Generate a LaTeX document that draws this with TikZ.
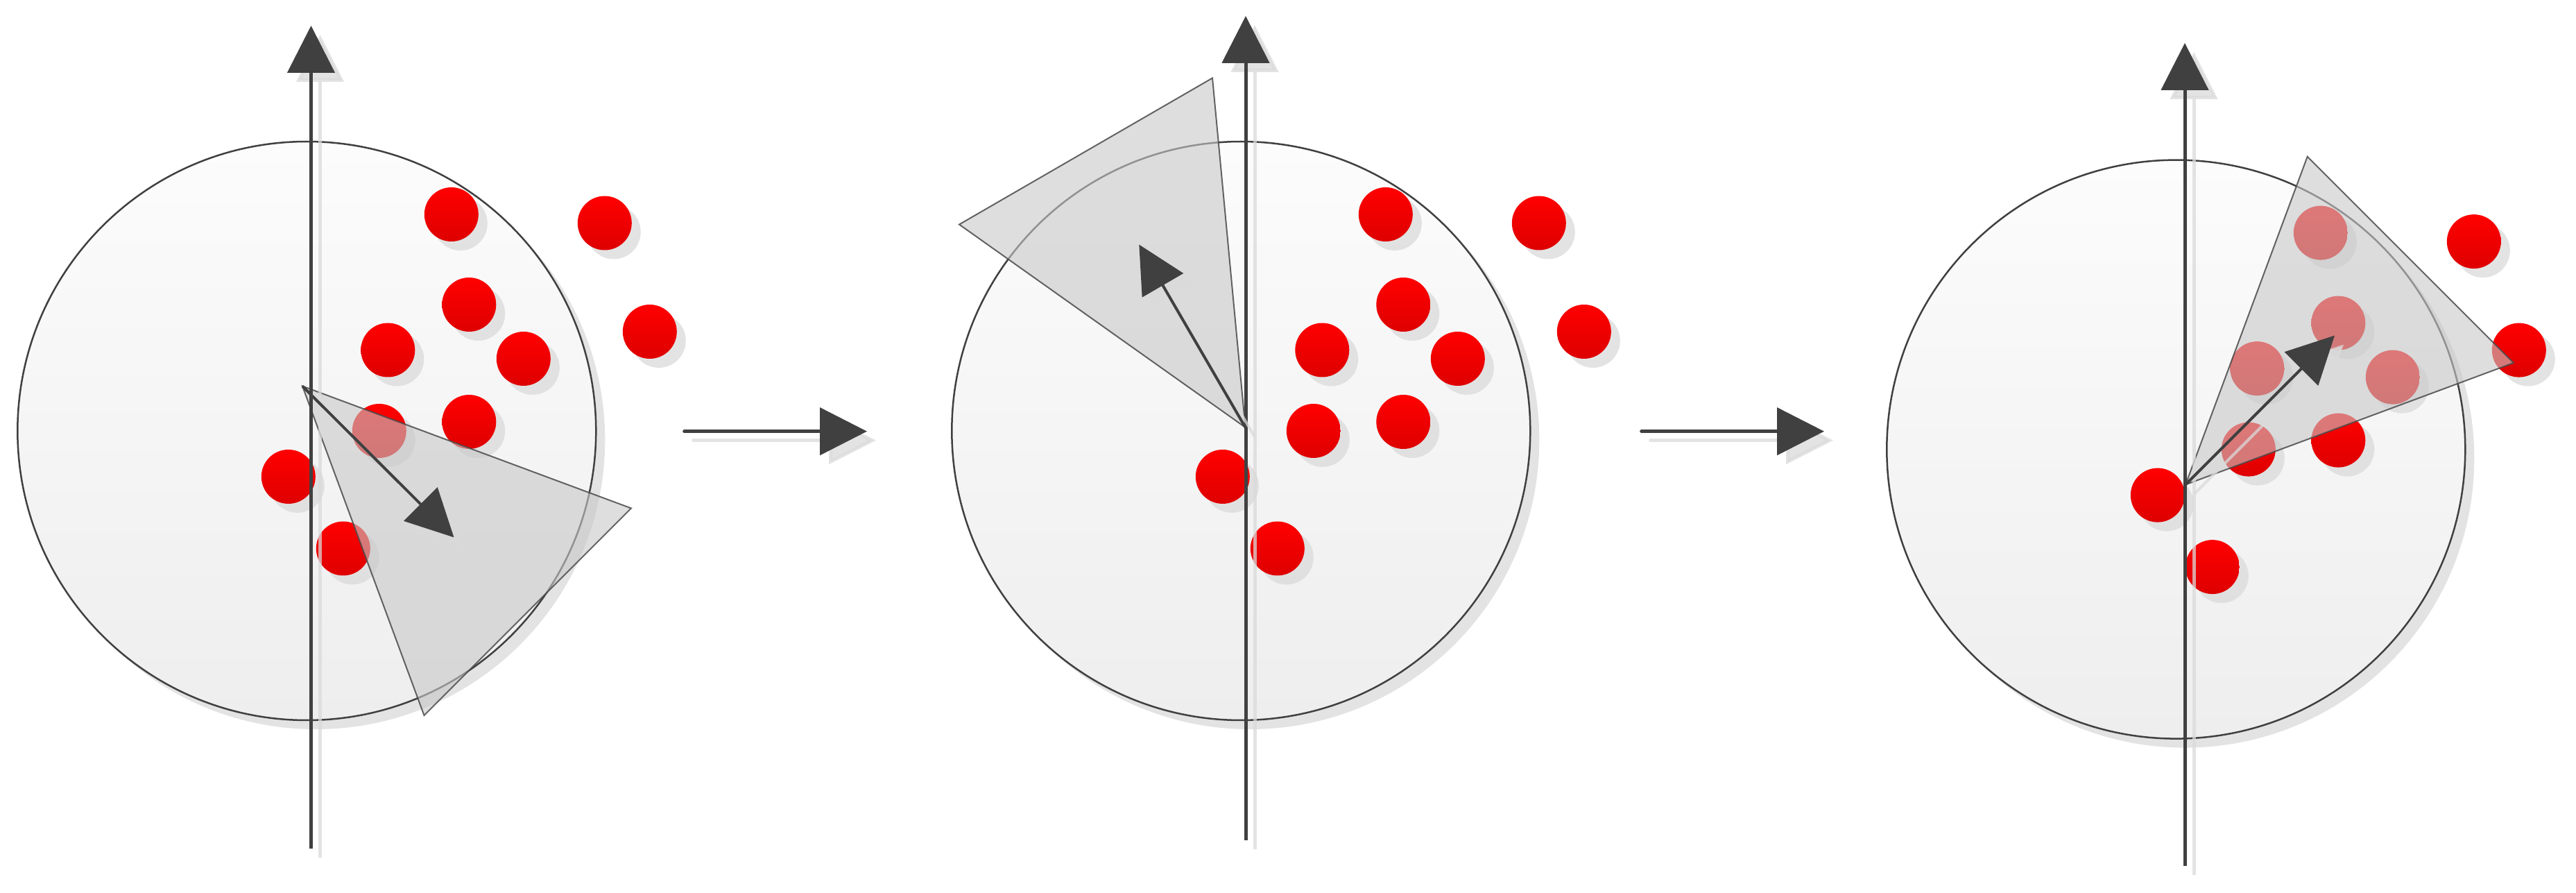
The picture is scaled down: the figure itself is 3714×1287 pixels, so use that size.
\documentclass[tikz,border=0pt]{standalone}
\usetikzlibrary{arrows.meta,shadows}
\definecolor{dk}{HTML}{404040}
\definecolor{shd}{HTML}{DADADA}
\definecolor{conegray}{HTML}{C8C8C8}
\definecolor{conestroke}{HTML}{4A4A4A}
\definecolor{redtop}{HTML}{FF0000}
\definecolor{redbot}{HTML}{DE0000}
\definecolor{disktop}{HTML}{FCFCFC}
\definecolor{diskbot}{HTML}{EEEEEE}
\begin{document}
\begin{tikzpicture}[x=0.1mm,y=-0.1mm,
  tipA/.style={-{Triangle[length=6.8mm,width=6.8mm]}},
  axisline/.style={draw=dk,line width=0.5mm,tipA},
  vecline/.style={draw=dk,line width=0.4mm,tipA},
  stepline/.style={draw=dk,line width=0.5mm,tipA,line cap=round},
  shadowed/.style={draw=shd,opacity=0.75,transform canvas={xshift=1.3mm,yshift=-1.3mm}},
  softshadow/.style={drop shadow={shadow xshift=1.3mm,shadow yshift=-1.3mm,fill=shd,opacity=0.75}},
  disk/.style={circle,draw=dk,line width=0.25mm,minimum size=83.4mm,inner sep=0pt,
    top color=disktop,bottom color=diskbot,softshadow},
  reddot/.style={circle,minimum size=7.8mm,inner sep=0pt,top color=redtop,bottom color=redbot,softshadow},
  cone/.style={fill=conegray,fill opacity=0.6,draw=conestroke,draw opacity=0.85,line width=0.2mm,line join=miter}
]
\path[use as bounding box] (0,0) rectangle (3714,1287);

% ---------- coordinates ----------
\coordinate (c1) at (442.3,621);
\coordinate (c2) at (1789.3,621);
\coordinate (c3) at (3137.3,647.6);

\coordinate (ax1b) at (448.5,1223);  \coordinate (ax1t) at (448.5,37);
\coordinate (ax2b) at (1796,1211);   \coordinate (ax2t) at (1796,23);
\coordinate (ax3b) at (3150,1248);   \coordinate (ax3t) at (3150,62);

\coordinate (k1a) at (436,556.5);   \coordinate (k1b) at (910,732.5);   \coordinate (k1c) at (611.5,1031);
\coordinate (k2a) at (1795.5,616);  \coordinate (k2b) at (1383,323.5);  \coordinate (k2c) at (1748,112.5);
\coordinate (k3a) at (3151,698.5);  \coordinate (k3b) at (3326.7,225.7); \coordinate (k3c) at (3624,523);

\coordinate (v1) at (654.5,774.5);
\coordinate (v2) at (1642.3,352.5);
\coordinate (v3) at (3366,483.5);

\coordinate (h1s) at (986.7,621.7);  \coordinate (h1e) at (1250,621.7);
\coordinate (h2s) at (2366.7,621.7); \coordinate (h2e) at (2630,621.7);

% ---------- disks ----------
\node[disk] (d1) at (c1) {};
\node[disk] (d2) at (c2) {};
\node[disk] (d3) at (c3) {};

% ---------- points ----------
\foreach \p in {1,2,3}{
  \foreach \dx/\dy [count=\i] in {208.5/-312, 429.5/-299.5, 234/-182, 494.5/-143, 117/-116.5,
                                  312.5/-104, 104.5/0, 234/-13, -26.5/66, 52.5/169.5}{
    \node[reddot] (p\p d\i) at ([shift={(\dx,\dy)}]c\p) {};
  }
}

% ---------- cones ----------
\path[cone] (k1a) -- (k1b) -- (k1c) -- cycle;
\path[cone] (k2a) -- (k2b) -- (k2c) -- cycle;
\path[cone] (k3a) -- (k3b) -- (k3c) -- cycle;

% ---------- axes ----------
\draw[axisline,shadowed] (ax1b) -- (ax1t);
\draw[axisline] (ax1b) -- (ax1t);
\draw[axisline,shadowed] (ax2b) -- (ax2t);
\draw[axisline] (ax2b) -- (ax2t);
\draw[axisline,shadowed] (ax3b) -- (ax3t);
\draw[axisline] (ax3b) -- (ax3t);

% ---------- direction vectors ----------
\draw[vecline,shadowed] (k1a) -- (v1);
\draw[vecline] (k1a) -- (v1);
\draw[vecline,shadowed] (k2a) -- (v2);
\draw[vecline] (k2a) -- (v2);
\draw[vecline,shadowed] (k3a) -- (v3);
\draw[vecline] (k3a) -- (v3);

% ---------- step arrows ----------
\draw[stepline,shadowed] (h1s) -- (h1e);
\draw[stepline] (h1s) -- (h1e);
\draw[stepline,shadowed] (h2s) -- (h2e);
\draw[stepline] (h2s) -- (h2e);
\end{tikzpicture}
\end{document}
